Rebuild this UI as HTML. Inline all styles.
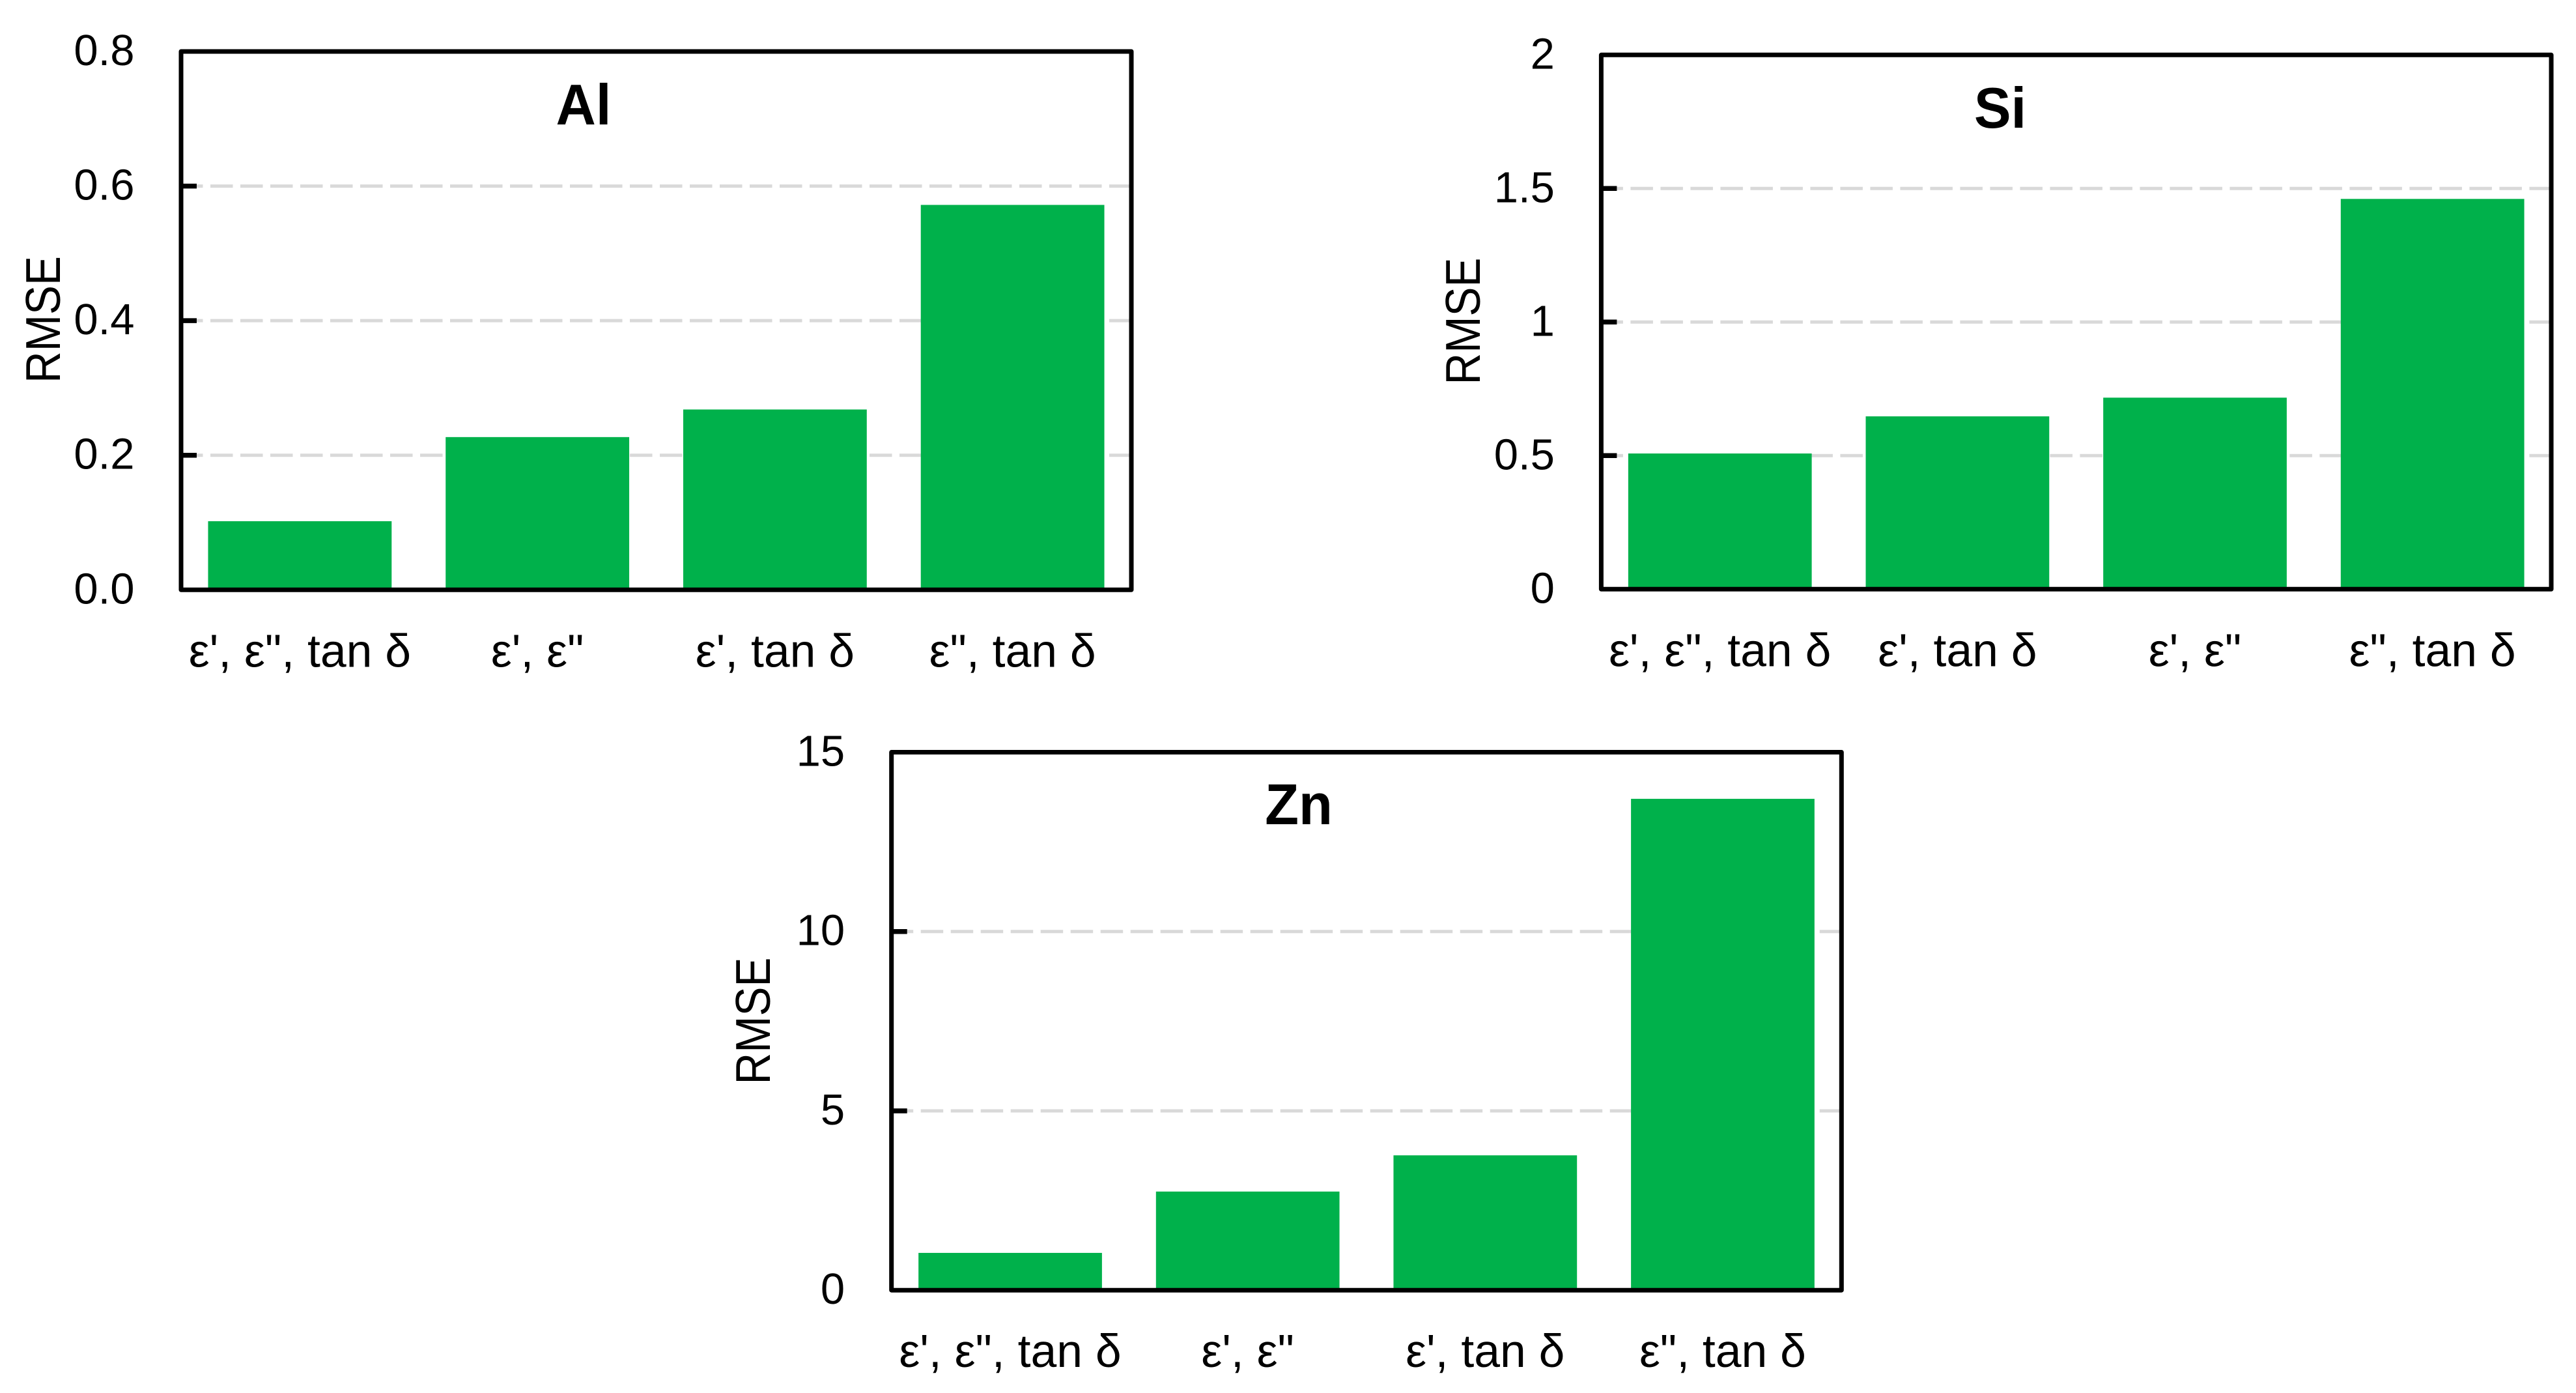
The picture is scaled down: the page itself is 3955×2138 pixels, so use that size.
<!DOCTYPE html>
<html lang="en">
<head>
<meta charset="utf-8">
<title>RMSE by element</title>
<style>
html,body{margin:0;padding:0;background:#fff;}
svg{display:block;}
text{font-family:"Liberation Sans",sans-serif;fill:#000;}
.tick-label{font-size:67px;text-anchor:end;}
.cat-label{font-size:71.5px;text-anchor:middle;}
.chart-title{font-size:85px;font-weight:bold;text-anchor:middle;}
.y-title{font-size:67.5px;text-anchor:middle;}
</style>
</head>
<body>
<svg xmlns="http://www.w3.org/2000/svg" width="3955" height="2138" viewBox="0 0 3955 2138">
  <rect x="0" y="0" width="3955" height="2138" fill="#ffffff"/>

  <g id="chart-al">
    <g class="grid"></g>
    <g class="bars"></g>
    <g class="ticks"></g>
    <rect class="frame" fill="none" stroke="#000" stroke-width="7" stroke-linejoin="round"/>
    <g class="ylabels"></g>
    <g class="xlabels"></g>
    <text class="chart-title" transform="translate(896,191) scale(1,1.04)" x="0" y="0">Al</text>
    <text class="y-title" transform="translate(92,490.5) rotate(-90) scale(1,1.11)" x="0" y="0">RMSE</text>
  </g>

  <g id="chart-si">
    <g class="grid"></g>
    <g class="bars"></g>
    <g class="ticks"></g>
    <rect class="frame" fill="none" stroke="#000" stroke-width="7" stroke-linejoin="round"/>
    <g class="ylabels"></g>
    <g class="xlabels"></g>
    <text class="chart-title" transform="translate(3071,196) scale(1,1.04)" x="0" y="0">Si</text>
    <text class="y-title" transform="translate(2272,493) rotate(-90) scale(1,1.11)" x="0" y="0">RMSE</text>
  </g>

  <g id="chart-zn">
    <g class="grid"></g>
    <g class="bars"></g>
    <g class="ticks"></g>
    <rect class="frame" fill="none" stroke="#000" stroke-width="7" stroke-linejoin="round"/>
    <g class="ylabels"></g>
    <g class="xlabels"></g>
    <text class="chart-title" transform="translate(1994,1265) scale(1,1.04)" x="0" y="0">Zn</text>
    <text class="y-title" transform="translate(1182,1567) rotate(-90) scale(1,1.11)" x="0" y="0">RMSE</text>
  </g>
</svg>

<script>
const alCategories = ["ε', ε\", tan δ", "ε', ε\"", "ε', tan δ", "ε\", tan δ"];
const alValues = [0.102, 0.227, 0.268, 0.572];
const alTicks = ["0.0", "0.2", "0.4", "0.6", "0.8"];

const siCategories = ["ε', ε\", tan δ", "ε', tan δ", "ε', ε\"", "ε\", tan δ"];
const siValues = [0.508, 0.647, 0.717, 1.461];
const siTicks = ["0", "0.5", "1", "1.5", "2"];

const znCategories = ["ε', ε\", tan δ", "ε', ε\"", "ε', tan δ", "ε\", tan δ"];
const znValues = [1.04, 2.75, 3.76, 13.7];
const znTicks = ["0", "5", "10", "15"];

const SVG_NS = "http://www.w3.org/2000/svg";

function shape(tag, parent, attrs) {
  const el = document.createElementNS(SVG_NS, tag);
  for (const k in attrs) el.setAttribute(k, attrs[k]);
  parent.appendChild(el);
  return el;
}

function drawChart(id, prefix, box, categories, values, ticks) {
  const root = document.getElementById(id);
  const gGrid = root.querySelector(".grid");
  const gBars = root.querySelector(".bars");
  const gTicks = root.querySelector(".ticks");
  const gY = root.querySelector(".ylabels");
  const gX = root.querySelector(".xlabels");
  const frame = root.querySelector(".frame");

  const nums = ticks.map(parseFloat);
  const yMax = Math.max.apply(null, nums);
  const yScale = function (v) { return box.bottom - (v / yMax) * (box.bottom - box.top); };
  const band = (box.right - box.left) / categories.length;
  const xCenter = function (i) { return box.left + band * (i + 0.5); };
  const barWidth = band * 0.7726;

  frame.setAttribute("x", box.left);
  frame.setAttribute("y", box.top);
  frame.setAttribute("width", box.right - box.left);
  frame.setAttribute("height", box.bottom - box.top);

  ticks.forEach(function (label, i) {
    const y = yScale(nums[i]);
    const txt = shape("text", gY, { class: "tick-label", x: box.left - 71.5, y: y + 21 });
    txt.textContent = label;
    
    
    if (nums[i] === 0 || nums[i] === yMax) return;
    const grid = shape("line", gGrid, {
      x1: box.left - 1, x2: box.right - 3, y1: y, y2: y,
      stroke: "#D9D9D9", "stroke-width": 5, "stroke-dasharray": "34.5 11.5"
    });
    
    
    const tick = shape("line", gTicks, {
      x1: box.left, x2: box.left + 24, y1: y, y2: y,
      stroke: "#000", "stroke-width": 7.5
    });
    
    
  });

  values.forEach(function (v, i) {
    const y = yScale(v);
    const bar = shape("rect", gBars, {
      x: xCenter(i) - barWidth / 2, y: y, width: barWidth, height: box.bottom - y, fill: "#00B14B"
    });
    
    
  });

  categories.forEach(function (c, i) {
    const txt = shape("text", gX, { class: "cat-label", x: xCenter(i), y: box.bottom + 118 });
    txt.textContent = c;
    
    
  });
}

drawChart("chart-al", "al", { left: 278, right: 1737, top: 79, bottom: 905.3 }, alCategories, alValues, alTicks);
drawChart("chart-si", "si", { left: 2458.4, right: 3917, top: 84.3, bottom: 904.3 }, siCategories, siValues, siTicks);
drawChart("chart-zn", "zn", { left: 1368.7, right: 2827.3, top: 1154.5, bottom: 1980.2 }, znCategories, znValues, znTicks);
</script>
</body>
</html>
